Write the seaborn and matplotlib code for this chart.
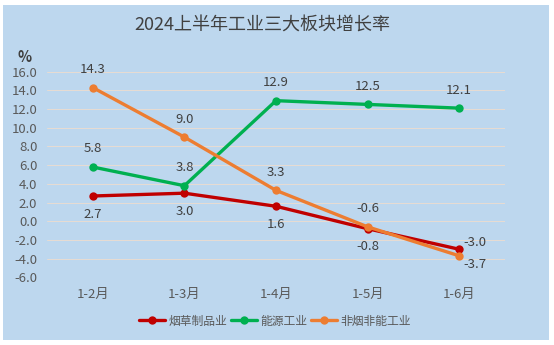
import matplotlib
matplotlib.use("Agg")
import matplotlib.pyplot as plt
import seaborn as sns
import pandas as pd
from matplotlib.patches import Rectangle

categories = ["1-2月", "1-3月", "1-4月", "1-5月", "1-6月"]
tobacco = [2.7, 3.0, 1.6, -0.8, -3.0]
energy = [5.8, 3.8, 12.9, 12.5, 12.1]
other = [14.3, 9.0, 3.3, -0.6, -3.7]
series_names = ["烟草制品业", "能源工业", "非烟非能工业"]
y_ticks = [-6, -4, -2, 0, 2, 4, 6, 8, 10, 12, 14, 16]
title = "2024上半年工业三大板块增长率"

sns.set_theme(style="white")
plt.rcParams['font.family'] = ['Noto Sans CJK SC', 'DejaVu Sans']

colors = ["#C00000", "#00B050", "#ED7D31"]
rows = []
for name, vals in zip(series_names, [tobacco, energy, other]):
    for c, v in zip(categories, vals):
        rows.append({"cat": c, "val": v, "series": name})
df = pd.DataFrame(rows)
df["x"] = df["cat"].map({c: i for i, c in enumerate(categories)})

fig = plt.figure(figsize=(5.54, 3.45), dpi=100)
fig.patch.set_facecolor("white")
bg = Rectangle((3 / 554, 5 / 345), (549 - 3) / 554, (340 - 5) / 345,
               transform=fig.transFigure, facecolor="#BDD7EE", edgecolor="none", zorder=-10)
fig.patches.append(bg)

ax = fig.add_axes([47 / 554, 1 - 277.3 / 345, (505 - 47) / 554, (277.3 - 71.7) / 345])
ax.set_facecolor("none")
ax.set_zorder(1)

sns.lineplot(data=df, x="x", y="val", hue="series", hue_order=series_names,
             palette=colors, marker="o", markersize=6, markeredgewidth=0,
             linewidth=2.4, ax=ax, legend=True)

ax.set_xlim(-0.5, 4.5)
ax.set_ylim(-6, 16)
ax.set_yticks(y_ticks)
ax.set_yticklabels([f"{t:.1f}" for t in y_ticks], color="#595959", fontsize=9.5)
ax.set_xticks(range(len(categories)))
ax.set_xticklabels(categories, color="#595959", fontsize=9.5)
ax.tick_params(axis="x", length=0, pad=8)
ax.tick_params(axis="y", length=0, pad=7)
ax.grid(axis="y", color="#E8DCD2", linewidth=0.7)
ax.set_axisbelow(True)
for s in ax.spines.values():
    s.set_visible(False)
ax.set_xlabel("")
ax.set_ylabel("")

lab_kw = dict(fontsize=9.5, color="#404040", ha="center", va="center")
for i, v in enumerate(tobacco):
    if i == 4:
        ax.annotate(f"{v:.1f}", (i, v), xytext=(11, 5), textcoords="offset points", **lab_kw)
    else:
        ax.annotate(f"{v:.1f}", (i, v), xytext=(0, -13), textcoords="offset points", **lab_kw)
for i, v in enumerate(energy):
    ax.annotate(f"{v:.1f}", (i, v), xytext=(0, 13), textcoords="offset points", **lab_kw)
for i, v in enumerate(other):
    if i == 4:
        ax.annotate(f"{v:.1f}", (i, v), xytext=(11, -6), textcoords="offset points", **lab_kw)
    else:
        ax.annotate(f"{v:.1f}", (i, v), xytext=(0, 13), textcoords="offset points", **lab_kw)

fig.text(262 / 554, 1 - 25 / 345, title, ha="center", va="center", fontsize=13, color="#404040")
fig.text(25 / 554, 1 - 57 / 345, "%", ha="center", va="center", fontsize=10.5,
         color="#404040", fontweight="bold")

leg = ax.legend(loc="center", bbox_to_anchor=(275 / 554, 1 - 321 / 345),
                bbox_transform=fig.transFigure, ncol=3, frameon=False,
                fontsize=8.5, handlelength=2.2, handletextpad=0.3, columnspacing=0.3)
for t in leg.get_texts():
    t.set_color("#595959")

fig.savefig("out.png", dpi=100, facecolor="white")
